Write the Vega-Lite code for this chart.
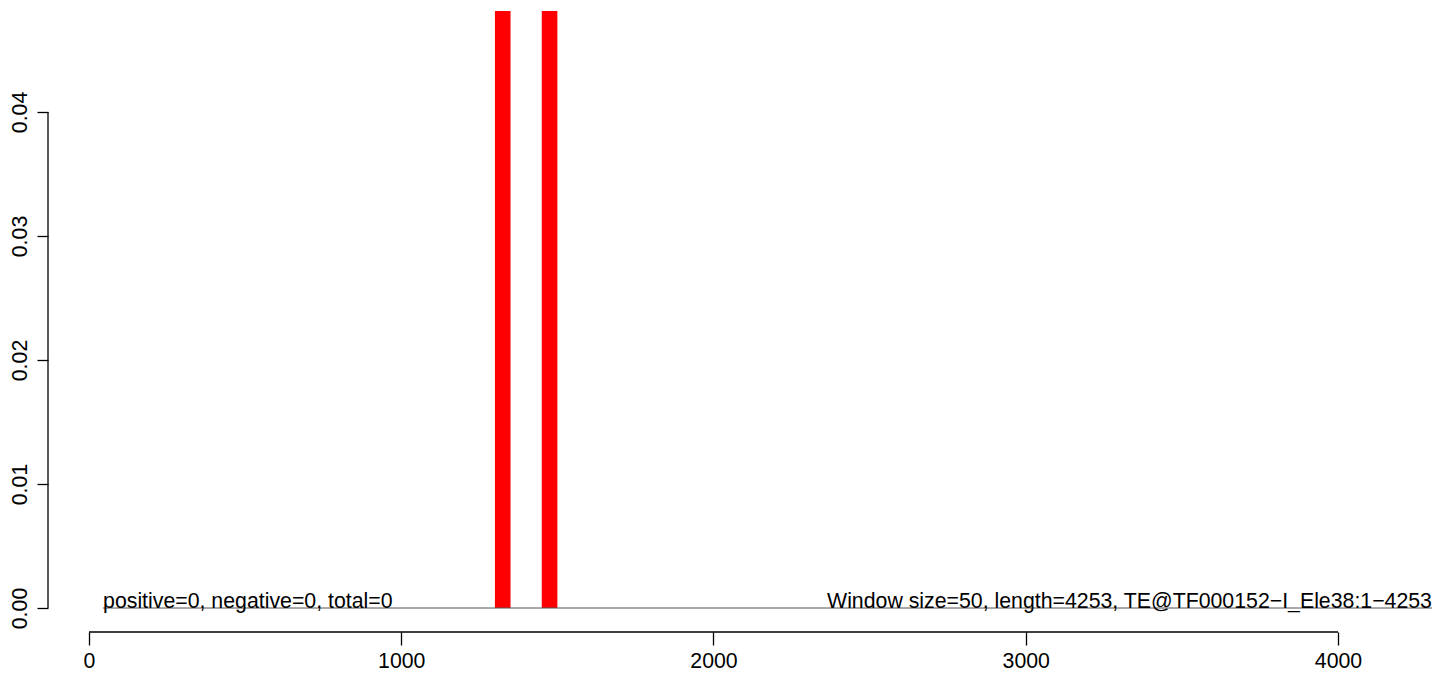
{
  "$schema": "https://vega.github.io/schema/vega-lite/v6.json",
  "width": 1396,
  "height": 621,
  "autosize": {"type": "none"},
  "padding": {"left": 48, "top": 11, "right": 0, "bottom": 51},
  "background": "white",
  "config": {"view": {"stroke": null}, "font": "Liberation Sans"},
  "layer": [
    {
      "data": {"values": [
        {"start": 1300, "end": 1350, "value": 0.06},
        {"start": 1450, "end": 1500, "value": 0.06}
      ]},
      "mark": {"type": "rect", "color": "#FF0000", "clip": true},
      "encoding": {
        "x": {"field": "start", "type": "quantitative",
              "scale": {"domain": [-131.3, 4339.5], "nice": false, "zero": false},
              "axis": {"values": [0, 1000, 2000, 3000, 4000], "format": "d", "domain": false, "grid": false,
                       "tickSize": 13, "tickColor": "black", "tickWidth": 1.3, "labelFontSize": 21.3, "labelColor": "black",
                       "labelPadding": 5, "title": null, "labelFont": "Liberation Sans"}},
        "x2": {"field": "end"},
        "y": {"field": "value", "type": "quantitative",
              "scale": {"domain": [-0.001935, 0.048145], "nice": false, "zero": false},
              "axis": {"values": [0, 0.01, 0.02, 0.03, 0.04], "format": ".2f", "domain": false, "grid": false,
                       "tickSize": 11, "tickColor": "black", "tickWidth": 1.3, "labelFontSize": 21.3, "labelColor": "black",
                       "labelAngle": -90, "labelAlign": "center", "labelBaseline": "bottom", "labelPadding": 7,
                       "title": null, "labelFont": "Liberation Sans"}},
        "y2": {"datum": 0}
      }
    },
    {
      "data": {"values": [{"from": 45, "to": 4301, "level": 0}]},
      "mark": {"type": "rule", "color": "#555555", "strokeWidth": 1},
      "encoding": {
        "x": {"field": "from", "type": "quantitative"},
        "x2": {"field": "to"},
        "y": {"field": "level", "type": "quantitative"}
      }
    },
    {
      "data": {"values": [{"from": 0, "to": 4000, "level": -0.001935}]},
      "mark": {"type": "rule", "color": "black", "strokeWidth": 1.3},
      "encoding": {
        "x": {"field": "from", "type": "quantitative"},
        "x2": {"field": "to"},
        "y": {"field": "level", "type": "quantitative"}
      }
    },
    {
      "data": {"values": [{"from": 0, "to": 0.04, "pos": -131.3}]},
      "mark": {"type": "rule", "color": "black", "strokeWidth": 1.3},
      "encoding": {
        "y": {"field": "from", "type": "quantitative"},
        "y2": {"field": "to"},
        "x": {"field": "pos", "type": "quantitative"}
      }
    },
    {
      "data": {"values": [
        {"pos": 45, "level": 0, "label": "positive=0, negative=0, total=0"}
      ]},
      "mark": {"type": "text", "align": "left", "baseline": "alphabetic", "fontSize": 21.3, "font": "Liberation Sans", "color": "black"},
      "encoding": {
        "x": {"field": "pos", "type": "quantitative"},
        "y": {"field": "level", "type": "quantitative"},
        "text": {"field": "label"}
      }
    },
    {
      "data": {"values": [
        {"pos": 4301, "level": 0, "label": "Window size=50, length=4253, TE@TF000152−I_Ele38:1−4253"}
      ]},
      "mark": {"type": "text", "align": "right", "baseline": "alphabetic", "fontSize": 21.3, "font": "Liberation Sans", "color": "black"},
      "encoding": {
        "x": {"field": "pos", "type": "quantitative"},
        "y": {"field": "level", "type": "quantitative"},
        "text": {"field": "label"}
      }
    }
  ]
}
